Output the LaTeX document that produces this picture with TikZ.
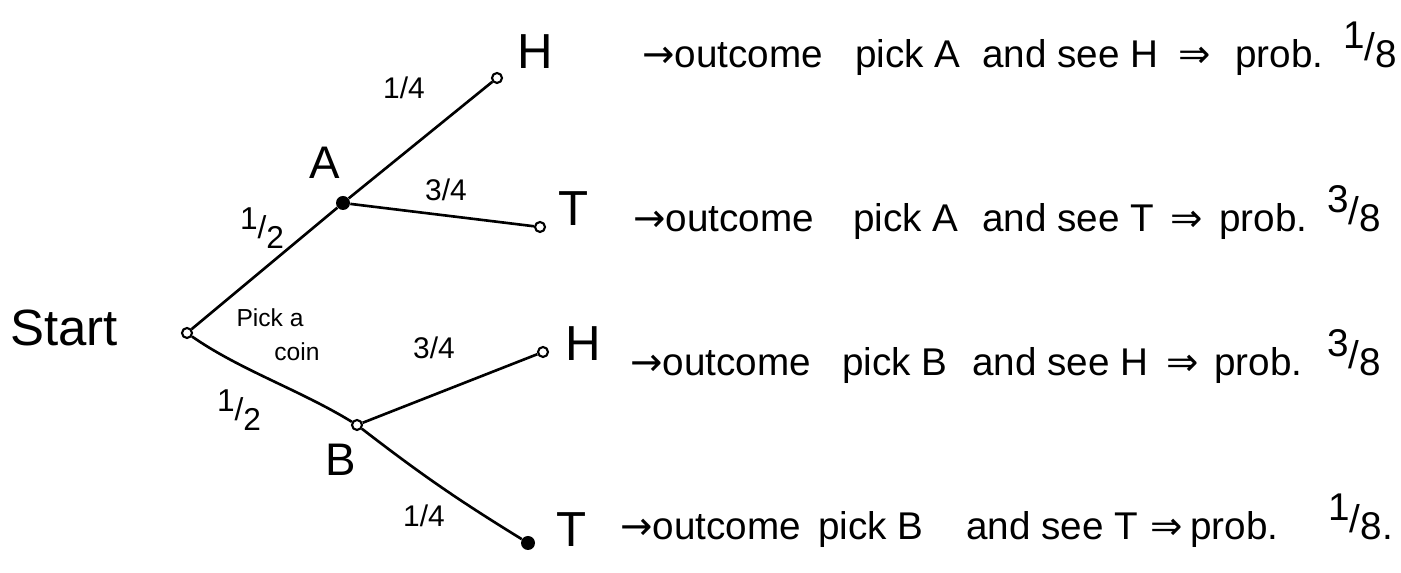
\documentclass[tikz,border=0pt]{standalone}
\usepackage{fontspec}
\setmainfont{Liberation Sans}
\newfontfamily\symf{DejaVu Sans}
\newcommand{\ofr}[2]{\raisebox{0.5em}{#1}\raisebox{0.2em}{/}#2}
\newcommand{\hfr}[2]{\raisebox{0.3em}{#1}/\raisebox{-0.3em}{#2}}
\tikzset{
  openpt/.style={circle, draw, line width=1.2pt, minimum size=0.2cm, inner sep=0pt, fill=white},
  fillpt/.style={circle, fill, minimum size=0.28cm, inner sep=0pt},
  branch/.style={line width=1.5pt},
  outtext/.style={anchor=base west, inner sep=0pt, font=\fontsize{22}{26}\selectfont},
  leaflbl/.style={inner sep=0pt, font=\fontsize{28}{32}\selectfont},
  edgelbl/.style={inner sep=0pt, font=\fontsize{17}{20}\selectfont},
  coinlbl/.style={inner sep=0pt, font=\fontsize{14}{17}\selectfont}
}
\begin{document}
\begin{tikzpicture}[x=0.02cm, y=-0.02cm]
\useasboundingbox (0,0) rectangle (1401,573);

% tree nodes
\node[openpt] (S) at (187,333) {};
\node[fillpt] (A) at (343,203) {};
\node[openpt] (B) at (357,425) {};
\node[openpt] (AH) at (497,78) {};
\node[openpt] (AT) at (540,227) {};
\node[openpt] (BH) at (543,352) {};
\node[fillpt] (BT) at (528,543) {};

% branches
\draw[branch] (S) -- (A);
\draw[branch] (S) .. controls (240,370) and (300,390) .. (B);
\draw[branch] (A) -- (AH);
\draw[branch] (A) -- (AT);
\draw[branch] (B) -- (BH);
\draw[branch] (B) to[bend right=3] (BT);

% labels
\node[inner sep=0pt, font=\fontsize{29}{34}\selectfont] (startlbl) at (64,328) {Start};
\node[inner sep=0pt, font=\fontsize{26}{30}\selectfont] (Albl) at (325,163) {A};
\node[inner sep=0pt, font=\fontsize{26}{30}\selectfont] (Blbl) at (341,460) {B};
\node[leaflbl] (AHlbl) at (535,52) {H};
\node[leaflbl] (ATlbl) at (574,209) {T};
\node[leaflbl] (BHlbl) at (583,344) {H};
\node[leaflbl] (BTlbl) at (572,530) {T};

\node[edgelbl] (eAH) at (404,88) {1/4};
\node[edgelbl] (eAT) at (446,190) {3/4};
\node[edgelbl, font=\fontsize{18}{20}\selectfont] (eSA) at (262,228) {\hfr{1}{2}};
\node[coinlbl] (pick1) at (270,318) {Pick a};
\node[coinlbl] (pick2) at (297,352) {coin};
\node[edgelbl] (eBH) at (434,348) {3/4};
\node[edgelbl, font=\fontsize{18}{20}\selectfont] (eSB) at (239,410) {\hfr{1}{2}};
\node[edgelbl] (eBT) at (424,516) {1/4};

% row 1
\node[outtext] (r1a) at (642,68) {{\symf →}outcome};
\node[outtext] (r1b) at (855,68) {pick A};
\node[outtext] (r1c) at (982,68) {and see H};
\node[outtext] (r1d) at (1178,68) {{\symf ⇒}};
\node[outtext] (r1e) at (1235,68) {prob.};
\node[outtext] (r1f) at (1343,68) {\ofr{1}{8}};

% row 2
\node[outtext] (r2a) at (633,232) {{\symf →}outcome};
\node[outtext] (r2b) at (853,232) {pick A};
\node[outtext] (r2c) at (982,232) {and see T};
\node[outtext] (r2d) at (1170,232) {{\symf ⇒}};
\node[outtext] (r2e) at (1219,232) {prob.};
\node[outtext] (r2f) at (1327,232) {\ofr{3}{8}};

% row 3
\node[outtext] (r3a) at (630,376) {{\symf →}outcome};
\node[outtext] (r3b) at (842,376) {pick B};
\node[outtext] (r3c) at (972,376) {and see H};
\node[outtext] (r3d) at (1166,376) {{\symf ⇒}};
\node[outtext] (r3e) at (1214,376) {prob.};
\node[outtext] (r3f) at (1327,376) {\ofr{3}{8}};

% row 4
\node[outtext] (r4a) at (620,540) {{\symf →}outcome};
\node[outtext] (r4b) at (818,540) {pick B};
\node[outtext] (r4c) at (966,540) {and see T};
\node[outtext] (r4d) at (1150,540) {{\symf ⇒}};
\node[outtext] (r4e) at (1190,540) {prob.};
\node[outtext] (r4f) at (1328,540) {\ofr{1}{8}.};
\end{tikzpicture}
\end{document}
